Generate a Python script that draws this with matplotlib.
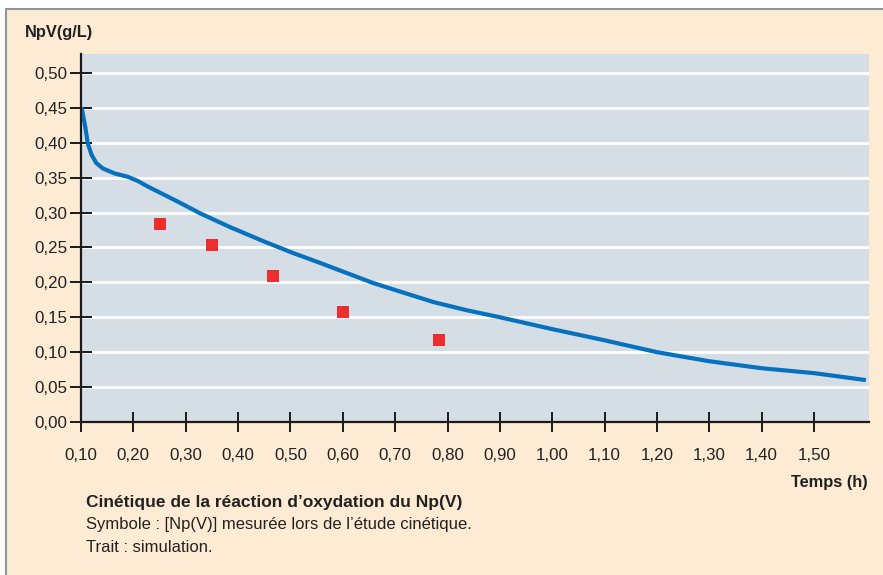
import matplotlib
matplotlib.use("Agg")
import matplotlib.pyplot as plt
from matplotlib.patches import Rectangle
from matplotlib.ticker import FuncFormatter
import numpy as np

plt.rcParams["font.family"] = ["Liberation Sans", "DejaVu Sans"]

# simulation (trait)
sim_t = [0.101, 0.108, 0.113, 0.120, 0.129, 0.142, 0.164, 0.190, 0.209, 0.228,
         0.260, 0.289, 0.327, 0.385, 0.448, 0.505, 0.556, 0.658, 0.772, 0.837,
         0.900, 1.000, 1.100, 1.200, 1.300, 1.400, 1.500, 1.599]
sim_np = [0.451, 0.423, 0.399, 0.383, 0.371, 0.363, 0.356, 0.351, 0.345, 0.337,
          0.325, 0.314, 0.299, 0.279, 0.259, 0.242, 0.228, 0.199, 0.172, 0.160,
          0.150, 0.133, 0.117, 0.100, 0.087, 0.077, 0.070, 0.060]

# mesures (symboles)
mes_t = [0.251, 0.350, 0.467, 0.600, 0.784]
mes_np = [0.284, 0.253, 0.209, 0.158, 0.117]

x_ticks = np.round(np.arange(0.10, 1.51, 0.10), 2)
y_ticks = np.round(np.arange(0.00, 0.51, 0.05), 2)

PEACH = "#FEEBD4"
PLOT_BG = "#D5DEE5"
BLUE = "#0671BE"
RED = "#EC2E2E"
TXT = "#222222"

fig = plt.figure(figsize=(8.83, 5.75), dpi=100)
fig.patch.set_facecolor("white")
fig.patches.append(Rectangle((6 / 883, -0.01), 1.0, 1 - 8.5 / 575 + 0.01,
                             transform=fig.transFigure, facecolor=PEACH,
                             edgecolor="#8C969C", linewidth=1.5, zorder=-10))

ax = fig.add_axes([81 / 883, 1 - 422 / 575, 788 / 883, 368 / 575])
ax.set_facecolor(PLOT_BG)

for yv in y_ticks[1:]:
    ax.axhline(yv, color="white", linewidth=2.0, zorder=1)

ax.plot(sim_t, sim_np, color=BLUE, linewidth=3.0, zorder=3,
        solid_capstyle="butt", solid_joinstyle="round")
ax.plot(mes_t, mes_np, linestyle="none", marker="s", markersize=8,
        color=RED, markeredgewidth=0, zorder=4)

ax.set_xlim(0.10, 1.605)
ax.set_ylim(0.0, 0.527)

for side in ["top", "right"]:
    ax.spines[side].set_visible(False)
for side in ["left", "bottom"]:
    ax.spines[side].set_color("#1A1A1A")
    ax.spines[side].set_linewidth(1.6)
    ax.spines[side].set_zorder(5)

comma = FuncFormatter(lambda v, p: f"{v:.2f}".replace(".", ","))
ax.set_xticks(x_ticks)
ax.set_yticks(y_ticks)
ax.xaxis.set_major_formatter(comma)
ax.yaxis.set_major_formatter(comma)
ax.tick_params(axis="y", direction="inout", length=16, width=1.4,
               color="#1A1A1A", labelsize=12.2, labelcolor=TXT, pad=2)
ax.tick_params(axis="x", direction="inout", length=14, width=1.4,
               color="#1A1A1A", labelsize=12.2, labelcolor=TXT, pad=12)

fig.text(25 / 883, 1 - 33 / 575, "NpV(g/L)", fontsize=11.8, fontweight="bold",
         color=TXT, ha="left", va="center")
fig.text(868 / 883, 1 - 483 / 575, "Temps (h)", fontsize=11.8,
         fontweight="bold", color=TXT, ha="right", va="center")

fig.text(86 / 883, 1 - 503 / 575,
         "Cinétique de la réaction d\u2019oxydation du Np(V)",
         fontsize=12.5, fontweight="bold", color=TXT, ha="left", va="center")
fig.text(86 / 883, 1 - 525 / 575,
         "Symbole : [Np(V)] mesurée lors de l\u2019étude cinétique.",
         fontsize=12, color=TXT, ha="left", va="center")
fig.text(86 / 883, 1 - 547 / 575, "Trait : simulation.",
         fontsize=12, color=TXT, ha="left", va="center")

fig.savefig("out.png", dpi=100, facecolor=fig.get_facecolor())
